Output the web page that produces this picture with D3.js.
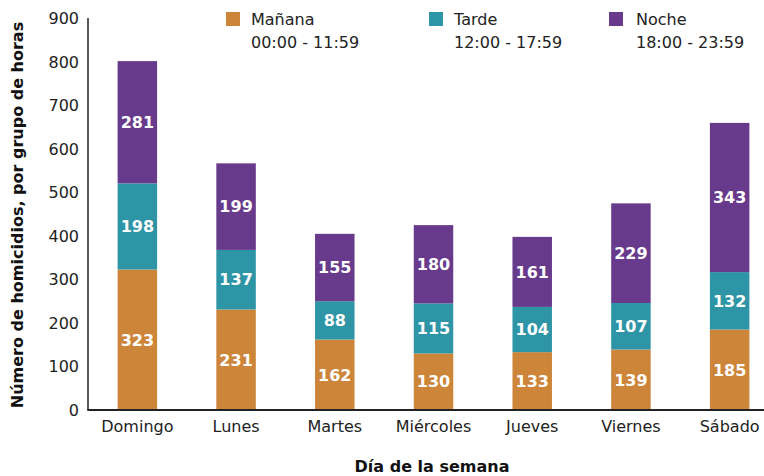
<!DOCTYPE html>
<html>
<head>
<meta charset="utf-8">
<script src="https://cdn.jsdelivr.net/npm/d3@7"></script>
<style>
  body { margin: 0; background: #fff; }
  text { font-family: "DejaVu Sans", Verdana, sans-serif; }
</style>
</head>
<body>
<script>
// datos
var dias = ["Domingo", "Lunes", "Martes", "Miércoles", "Jueves", "Viernes", "Sábado"];
var manana = [323, 231, 162, 130, 133, 139, 185];
var tarde = [198, 137, 88, 115, 104, 107, 132];
var noche = [281, 199, 155, 180, 161, 229, 343];
var series = ["Mañana", "Tarde", "Noche"];
var horarios = ["00:00 - 11:59", "12:00 - 17:59", "18:00 - 23:59"];
var colores = ["#cd853a", "#2e95a6", "#683a8c"];
var yTicks = [0, 100, 200, 300, 400, 500, 600, 700, 800, 900];

var W = 764, H = 476;
var svg = d3.select("body").append("svg")
    .attr("width", W)
    .attr("height", H);

var x = d3.scaleBand()
    .domain(dias)
    .range([88, 779])
    .paddingInner(0.6)
    .paddingOuter(0.3);

var y = d3.scaleLinear()
    .domain([0, 900])
    .range([410, 18.5]);

var tabla = dias.map(function (d, i) {
  return { dia: d, "Mañana": manana[i], "Tarde": tarde[i], "Noche": noche[i] };
});
var stack = d3.stack().keys(series)(tabla);

// barras
var capas = svg.selectAll("g.capa")
  .data(stack)
  .enter().append("g")
  .attr("class", "capa")
  .attr("fill", function (d, i) { return colores[i]; });

capas.selectAll("rect")
  .data(function (d) { return d; })
  .enter().append("rect")
  .attr("x", function (d) { return x(d.data.dia); })
  .attr("width", x.bandwidth())
  .attr("y", function (d) { return y(d[1]); })
  .attr("height", function (d) { return y(d[0]) - y(d[1]); });

capas.selectAll("text")
  .data(function (d) { return d; })
  .enter().append("text")
  .attr("x", function (d) { return x(d.data.dia) + x.bandwidth() / 2; })
  .attr("y", function (d) { return (y(d[0]) + y(d[1])) / 2; })
  .attr("dy", "0.36em")
  .attr("text-anchor", "middle")
  .attr("fill", "#fff")
  .style("font-size", "16px")
  .style("font-weight", "bold")
  .text(function (d) { return d[1] - d[0]; });

// ejes
var ejeY = svg.append("g")
  .attr("transform", "translate(88,0)")
  .call(d3.axisLeft(y).tickValues(yTicks).tickSize(0).tickPadding(9));
ejeY.select(".domain").remove();
ejeY.selectAll("text").style("font-size", "16px").attr("fill", "#222");

var ejeX = svg.append("g")
  .attr("transform", "translate(0,410)")
  .call(d3.axisBottom(x).tickSize(0).tickPadding(11));
ejeX.select(".domain").remove();
ejeX.selectAll("text").style("font-size", "16px").attr("fill", "#222");

svg.append("line")
  .attr("x1", 88).attr("x2", 88)
  .attr("y1", 18).attr("y2", 410.5)
  .attr("stroke", "#222").attr("stroke-width", 1.5);
svg.append("line")
  .attr("x1", 87.5).attr("x2", W)
  .attr("y1", 410).attr("y2", 410)
  .attr("stroke", "#222").attr("stroke-width", 1.8);

// titulos
svg.append("text")
  .attr("transform", "translate(23,215) rotate(-90)")
  .attr("text-anchor", "middle")
  .style("font-size", "16px")
  .style("font-weight", "bold")
  .attr("fill", "#111")
  .text("Número de homicidios, por grupo de horas");

svg.append("text")
  .attr("x", 432).attr("y", 472)
  .attr("text-anchor", "middle")
  .style("font-size", "16px")
  .style("font-weight", "bold")
  .attr("fill", "#111")
  .text("Día de la semana");

// leyenda
var legX = [226, 429, 609];
var ley = svg.selectAll("g.ley")
  .data(series)
  .enter().append("g")
  .attr("class", "ley")
  .attr("transform", function (d, i) { return "translate(" + legX[i] + ",0)"; });

ley.append("rect")
  .attr("x", 0).attr("y", 12)
  .attr("width", 14).attr("height", 14)
  .attr("fill", function (d, i) { return colores[i]; });

ley.append("text")
  .attr("x", function (d, i) { return i == 2 ? 27 : 25; })
  .attr("y", 25)
  .style("font-size", "16px")
  .attr("fill", "#222")
  .text(function (d) { return d; });

ley.append("text")
  .attr("x", function (d, i) { return i == 2 ? 27 : 25; })
  .attr("y", 48)
  .style("font-size", "16px")
  .attr("fill", "#222")
  .text(function (d, i) { return horarios[i]; });
</script>
</body>
</html>
